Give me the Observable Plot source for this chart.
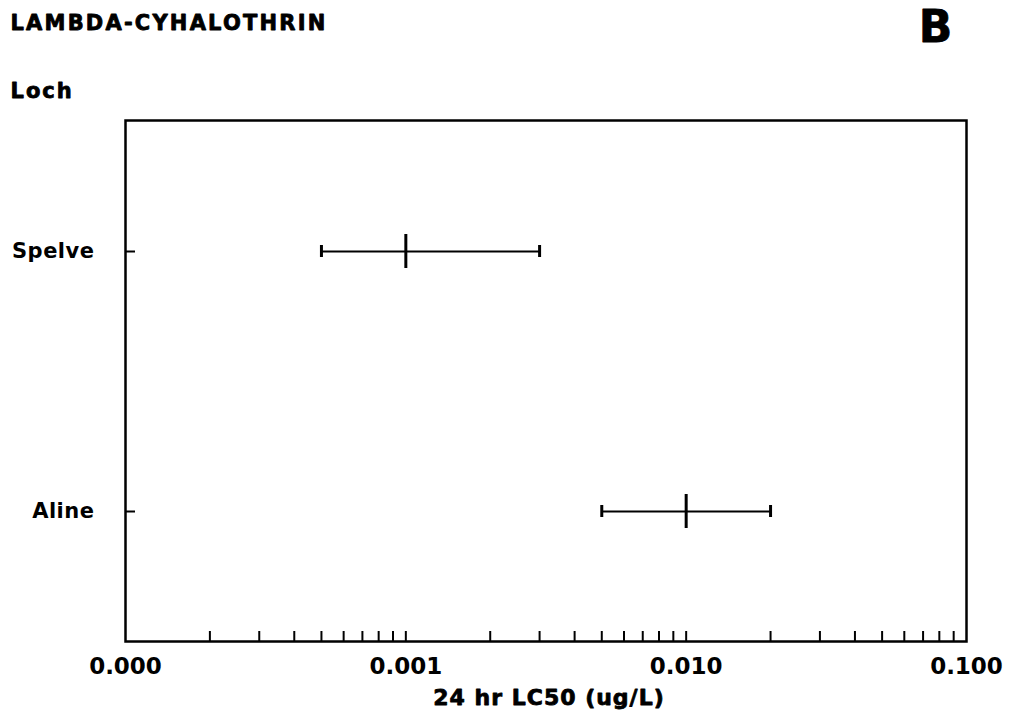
<!DOCTYPE html>
<html>
<head>
<meta charset="utf-8">
<script src="https://cdn.jsdelivr.net/npm/d3@7"></script>
<script src="https://cdn.jsdelivr.net/npm/@observablehq/plot@0.6"></script>
<style>
  html, body { margin: 0; padding: 0; background: #fff; }
  g[aria-description="title"] text { letter-spacing: 2.2px; }
  g[aria-description="loch-label"] text { letter-spacing: 2px; }
  g[aria-description="x-label"] text { letter-spacing: 1px; }
  g[aria-description="y-labels"] text { letter-spacing: 0.5px; }
</style>
</head>
<body>
<div id="chart"></div>
<script>
// 24 hr LC50 of lambda-cyhalothrin per loch, with confidence limits (ug/L)
const lochs = ["Spelve", "Aline"];
const lc50 = [0.001, 0.01];
const lower = [0.0005, 0.005];
const upper = [0.003, 0.02];

// labelled decades on the log axis
const majorTicks = [0.0001, 0.001, 0.01, 0.1];
// intermediate tick marks: 2..9 within each decade, plus the inner decade marks
const minorTicks = [];
for (const d of [0.0001, 0.001, 0.01]) {
  for (let m = 2; m <= 9; m++) minorTicks.push(+(d * m).toPrecision(3));
}
minorTicks.push(0.001, 0.01);

const rows = lochs.map((loch, i) => ({loch, lc50: lc50[i], lower: lower[i], upper: upper[i]}));

// heavy lettering: bold face with a thin outline
const ink = {fill: "#000", stroke: "#000", strokeWidth: 0.8};

const chart = Plot.plot({
  width: 1012,
  height: 713,
  marginLeft: 125,
  marginRight: 46,
  marginTop: 120,
  marginBottom: 72,
  style: {fontFamily: "DejaVu Sans", fontWeight: "bold", color: "#000", background: "#fff", overflow: "visible"},
  x: {type: "log", domain: [0.0001, 0.1], label: null},
  y: {type: "band", domain: lochs, padding: 0, label: null},
  marks: [
    Plot.frame({stroke: "#000", strokeWidth: 2.5}),
    // inward tick marks along the bottom edge
    Plot.axisX({ticks: minorTicks, tickSize: -10, tickFormat: () => "", strokeWidth: 2}),
    // decade labels
    Plot.axisX({ticks: majorTicks, tickSize: 0, tickPadding: 16, tickFormat: d3.format(".3f"), fontSize: 23, ...ink}),
    // inward ticks on the left edge at each loch
    Plot.axisY({tickSize: -10, tickFormat: () => "", strokeWidth: 2}),
    Plot.axisY({tickSize: 0, tickPadding: 31, fontSize: 21, ariaDescription: "y-labels", ...ink}),
    // confidence interval
    Plot.ruleY(rows, {y: "loch", x1: "lower", x2: "upper", stroke: "#000", strokeWidth: 2}),
    // end caps
    Plot.tickX(rows, {x: "lower", y: "loch", stroke: "#000", strokeWidth: 3, insetTop: 124, insetBottom: 124}),
    Plot.tickX(rows, {x: "upper", y: "loch", stroke: "#000", strokeWidth: 3, insetTop: 124, insetBottom: 124}),
    // LC50 estimate
    Plot.tickX(rows, {x: "lc50", y: "loch", stroke: "#000", strokeWidth: 3, insetTop: 113, insetBottom: 113}),
    // headings
    Plot.text(["LAMBDA-CYHALOTHRIN"], {frameAnchor: "top-left", dx: -115, dy: -105, textAnchor: "start", lineAnchor: "top", fontSize: 21, ariaDescription: "title", ...ink}),
    Plot.text(["Loch"], {frameAnchor: "top-left", dx: -115, dy: -37, textAnchor: "start", lineAnchor: "top", fontSize: 21, ariaDescription: "loch-label", ...ink}),
    Plot.text(["B"], {frameAnchor: "top-right", dx: -31, dy: -110, textAnchor: "middle", lineAnchor: "top", fontSize: 44, ...ink}),
    Plot.text(["24 hr LC50 (ug/L)"], {frameAnchor: "bottom", dx: 3, dy: 48, textAnchor: "middle", lineAnchor: "top", fontSize: 22, ariaDescription: "x-label", ...ink})
  ]
});

document.getElementById("chart").append(chart);
</script>
</body>
</html>
